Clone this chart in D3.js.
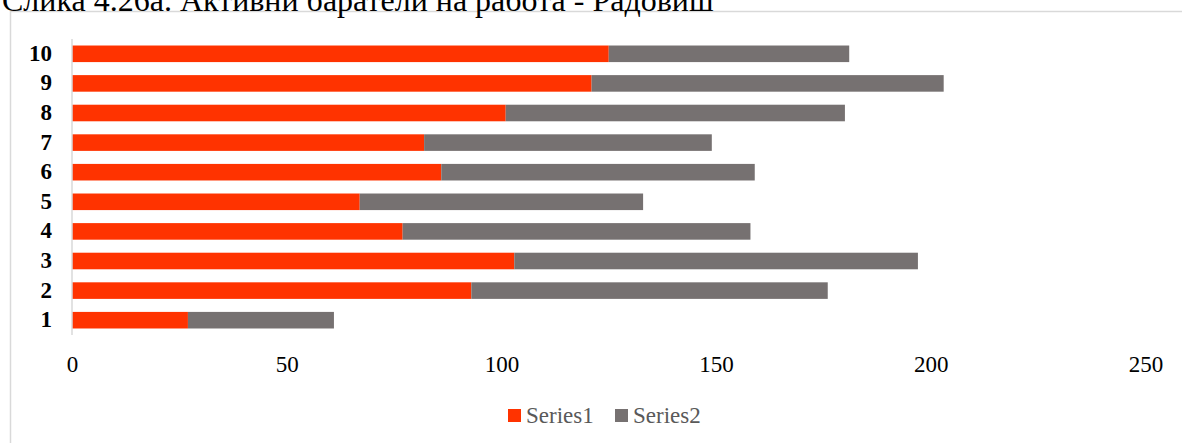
<!DOCTYPE html>
<html>
<head>
<meta charset="utf-8">
<script src="https://cdn.jsdelivr.net/npm/d3@7"></script>
<style>
  body { margin: 0; background: #fff; }
  svg { display: block; font-family: "Liberation Serif", "Times New Roman", serif; }
</style>
</head>
<body>
<div id="chart"></div>
<script>
// Active job seekers - chart data
const categories = ["1", "2", "3", "4", "5", "6", "7", "8", "9", "10"];
const series1 = [27, 93, 103, 77, 67, 86, 82, 101, 121, 125];
const series2 = [34, 83, 94, 81, 66, 73, 67, 79, 82, 56];
const seriesNames = ["Series1", "Series2"];
const xTicks = [0, 50, 100, 150, 200, 250];
const titleText = "Слика 4.26а. Активни баратели на работа - Радовиш";

function drawChart() {
    const W = 1182, H = 443;
    const colors = {"Series1": "#ff3300", "Series2": "#767171"};

    const svg = d3.select("#chart")
        .append("svg")
        .attr("width", W)
        .attr("height", H);

    // Chart frame
    svg.append("rect")
        .attr("x", 10.5)
        .attr("y", 11.5)
        .attr("width", W + 20)
        .attr("height", H + 20)
        .attr("fill", "#fff")
        .attr("stroke", "#d9d9d9")
        .attr("stroke-width", 1.5);

    // Title (cut off by the top edge, as in the document)
    svg.append("text")
        .attr("x", 2)
        .attr("y", 11)
        .style("font-size", "32px")
        .attr("fill", "#000")
        .text(titleText);

    // Scales
    const x = d3.scaleLinear()
        .domain([0, 250])
        .range([72, 1145.5]);

    const y = d3.scaleBand()
        .domain(categories.slice().reverse())
        .range([39, 335])
        .paddingInner(0.44)
        .paddingOuter(0.22);

    // Stack the two series
    const rows = categories.map((c, i) => ({cat: c, Series1: series1[i], Series2: series2[i]}));
    const stacked = d3.stack().keys(seriesNames)(rows);

    svg.append("g")
        .selectAll("g")
        .data(stacked)
        .enter()
        .append("g")
        .attr("fill", d => colors[d.key])
        .selectAll("rect")
        .data(d => d)
        .enter()
        .append("rect")
        .attr("x", d => x(d[0]))
        .attr("y", d => y(d.data.cat))
        .attr("width", d => x(d[1]) - x(d[0]))
        .attr("height", y.bandwidth());

    // Category axis line
    svg.append("line")
        .attr("x1", x(0))
        .attr("x2", x(0))
        .attr("y1", 39)
        .attr("y2", 335)
        .attr("stroke", "#d9d9d9")
        .attr("stroke-width", 1.5);

    // Category labels
    const yAxis = svg.append("g")
        .attr("transform", `translate(${x(0) - 20},0)`)
        .call(d3.axisLeft(y).tickSize(0).tickPadding(0));
    yAxis.select(".domain").remove();
    yAxis.selectAll("text")
        .attr("x", 0)
        .attr("dy", "0.3em")
        .attr("fill", "#000")
        .style("font-family", "'Liberation Serif', 'Times New Roman', serif")
        .style("font-size", "23px")
        .style("font-weight", "bold");

    // Value axis labels
    const xAxis = svg.append("g")
        .attr("transform", "translate(0,356)")
        .call(d3.axisBottom(x).tickValues(xTicks).tickSize(0).tickPadding(0));
    xAxis.select(".domain").remove();
    xAxis.selectAll("text")
        .attr("y", 0)
        .attr("dy", "0.71em")
        .attr("fill", "#000")
        .style("font-family", "'Liberation Serif', 'Times New Roman', serif")
        .style("font-size", "23px");

    // Legend
    const legendX = [508, 615];
    const legend = svg.append("g");
    seriesNames.forEach((name, i) => {
        legend.append("rect")
            .attr("x", legendX[i])
            .attr("y", 409)
            .attr("width", 13)
            .attr("height", 13)
            .attr("fill", colors[name]);
        legend.append("text")
            .attr("x", legendX[i] + 18)
            .attr("y", 423)
            .attr("fill", "#595959")
            .style("font-size", "23px")
            .text(name);
    });
}

document.addEventListener('DOMContentLoaded', drawChart);
</script>
</body>
</html>
